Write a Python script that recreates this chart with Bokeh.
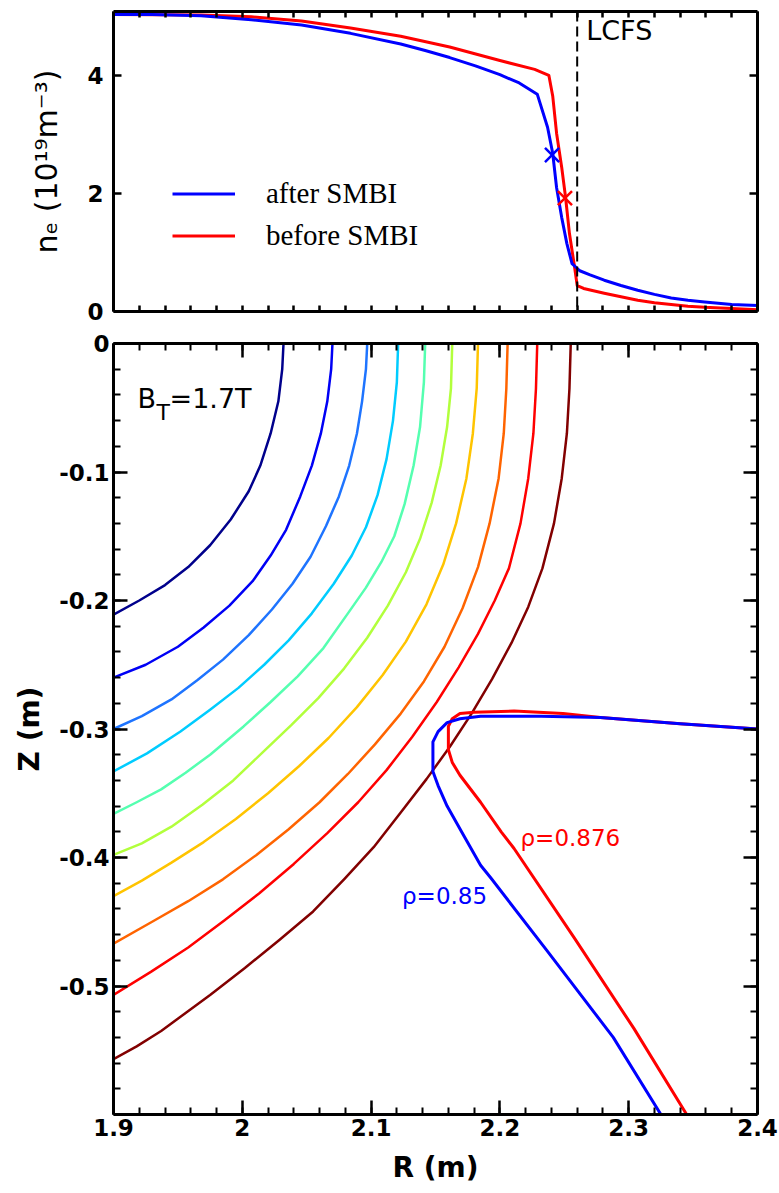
from bokeh.plotting import figure
from bokeh.layouts import column
from bokeh.models import (Range1d, LinearAxis, FixedTicker, CustomJSTickFormatter,
                          Label, Legend, LegendItem, Span)
from bokeh.embed import file_html
from bokeh.resources import INLINE

# ---------------- upper panel: density profiles ----------------
R_after = [1.900, 1.930, 1.968, 2.007, 2.046, 2.084, 2.123, 2.142, 2.161, 2.181, 2.200, 2.215, 2.229,
           2.237, 2.241, 2.244, 2.248, 2.252, 2.256, 2.262, 2.270, 2.281, 2.294, 2.307, 2.320,
           2.333, 2.346, 2.359, 2.380, 2.400]
ne_after = [5.03, 5.03, 5.01, 4.94, 4.85, 4.71, 4.53, 4.42, 4.30, 4.16, 4.01, 3.87, 3.68,
            3.12, 2.68, 2.10, 1.59, 1.15, 0.81, 0.69, 0.62, 0.53, 0.44, 0.36, 0.29,
            0.23, 0.19, 0.16, 0.12, 0.10]

R_before = [1.900, 1.968, 2.007, 2.046, 2.084, 2.123, 2.161, 2.200, 2.227, 2.238,
            2.241, 2.244, 2.248, 2.251, 2.254, 2.258, 2.260, 2.265, 2.281, 2.294, 2.307,
            2.320, 2.333, 2.346, 2.359, 2.380, 2.400]
ne_before = [5.03, 5.02, 4.99, 4.92, 4.80, 4.66, 4.48, 4.25, 4.10, 4.00,
             3.65, 3.02, 2.44, 1.93, 1.32, 0.75, 0.44, 0.39, 0.31, 0.25, 0.19,
             0.15, 0.12, 0.09, 0.07, 0.05, 0.03]

mark_after_R, mark_after_ne = [2.2405], [2.65]
mark_before_R, mark_before_ne = [2.2505], [1.92]
lcfs_R = 2.26

top_x_ticks = [round(1.90 + 0.02 * i, 2) for i in range(26)]
top_y_ticks = [0, 2, 4]

# ---------------- lower panel: flux surfaces ----------------
surf1_R = [2.032, 2.031, 2.028, 2.022, 2.014, 2.005, 1.991, 1.975, 1.958, 1.940, 1.920, 1.900]
surf1_Z = [0.000, -0.020, -0.045, -0.070, -0.095, -0.115, -0.137, -0.157, -0.174, -0.188, -0.200, -0.211]
surf2_R = [2.070, 2.069, 2.066, 2.061, 2.054, 2.045, 2.034, 2.022, 2.008, 1.990, 1.970, 1.950, 1.925, 1.900]
surf2_Z = [0.000, -0.020, -0.045, -0.070, -0.095, -0.119, -0.145, -0.165, -0.185, -0.204, -0.221, -0.236, -0.250, -0.260]
surf3_R = [2.097, 2.096, 2.093, 2.089, 2.083, 2.075, 2.065, 2.053, 2.039, 2.023, 2.005, 1.985, 1.965, 1.945, 1.922, 1.900]
surf3_Z = [0.000, -0.020, -0.045, -0.070, -0.095, -0.119, -0.142, -0.166, -0.187, -0.207, -0.227, -0.246, -0.262, -0.277, -0.290, -0.300]
surf4_R = [2.121, 2.120, 2.117, 2.112, 2.105, 2.096, 2.085, 2.071, 2.054, 2.036, 2.017, 1.997, 1.975, 1.952, 1.926, 1.900]
surf4_Z = [0.000, -0.030, -0.060, -0.090, -0.118, -0.143, -0.165, -0.187, -0.210, -0.231, -0.250, -0.268, -0.285, -0.302, -0.319, -0.333]
surf5_R = [2.142, 2.141, 2.138, 2.133, 2.126, 2.118, 2.108, 2.096, 2.082, 2.063, 2.043, 2.022, 2.001,
           1.975, 1.956, 1.937, 1.918, 1.900]
surf5_Z = [0.000, -0.030, -0.065, -0.095, -0.125, -0.150, -0.170, -0.190, -0.210, -0.237, -0.259, -0.279, -0.298,
           -0.320, -0.334, -0.347, -0.357, -0.366]
surf6_R = [2.163, 2.162, 2.159, 2.154, 2.147, 2.138, 2.127, 2.113, 2.097, 2.079, 2.059, 2.038, 2.016,
           1.993, 1.969, 1.945, 1.922, 1.900]
surf6_Z = [0.000, -0.035, -0.065, -0.095, -0.124, -0.152, -0.178, -0.204, -0.229, -0.253, -0.276, -0.297, -0.318,
           -0.340, -0.359, -0.376, -0.389, -0.398]
surf7_R = [2.183, 2.182, 2.179, 2.174, 2.166, 2.156, 2.143, 2.127, 2.109, 2.089, 2.067, 2.044, 2.020,
           1.995, 1.970, 1.945, 1.922, 1.900]
surf7_Z = [0.000, -0.035, -0.070, -0.105, -0.140, -0.172, -0.203, -0.232, -0.258, -0.283, -0.307, -0.329, -0.350,
           -0.370, -0.388, -0.404, -0.418, -0.430]
surf8_R = [2.206, 2.205, 2.203, 2.199, 2.192, 2.183, 2.171, 2.157, 2.141, 2.123, 2.103, 2.082, 2.060,
           2.036, 2.011, 1.985, 1.958, 1.930, 1.900]
surf8_Z = [0.000, -0.035, -0.070, -0.105, -0.140, -0.174, -0.206, -0.236, -0.263, -0.288, -0.312, -0.335, -0.357,
           -0.378, -0.398, -0.417, -0.434, -0.450, -0.467]
surf9_R = [2.229, 2.228, 2.226, 2.222, 2.216, 2.207, 2.196, 2.183, 2.168, 2.151, 2.132, 2.112, 2.090,
           2.066, 2.040, 2.013, 1.986, 1.958, 1.929, 1.900]
surf9_Z = [0.000, -0.035, -0.070, -0.105, -0.140, -0.175, -0.200, -0.226, -0.252, -0.279, -0.306, -0.332, -0.357,
           -0.381, -0.405, -0.428, -0.449, -0.470, -0.489, -0.507]
surf10_R = [2.255, 2.254, 2.252, 2.248, 2.242, 2.233, 2.222, 2.209, 2.194, 2.178, 2.161, 2.143, 2.123,
            2.102, 2.079, 2.055, 2.029, 2.002, 1.975, 1.956, 1.937, 1.918, 1.900]
surf10_Z = [0.000, -0.035, -0.070, -0.105, -0.140, -0.175, -0.205, -0.233, -0.261, -0.288, -0.314, -0.339, -0.365,
            -0.392, -0.417, -0.442, -0.464, -0.486, -0.507, -0.521, -0.535, -0.547, -0.557]
surf_colors = ["#00008C", "#0000F5", "#1E74FF", "#00CCFF", "#55FFB0",
               "#B2FF3C", "#FFC400", "#FF6400", "#FF0000", "#820000"]

rho085_R = [2.400, 2.340, 2.278, 2.232, 2.185, 2.169, 2.159, 2.152, 2.148, 2.148, 2.152, 2.159,
            2.172, 2.185, 2.193, 2.237, 2.288, 2.325]
rho085_Z = [-0.300, -0.296, -0.291, -0.290, -0.290, -0.292, -0.295, -0.302, -0.310, -0.333, -0.344, -0.360,
            -0.383, -0.406, -0.416, -0.473, -0.540, -0.600]
rho0876_R = [2.400, 2.340, 2.278, 2.249, 2.211, 2.180, 2.169, 2.163, 2.160, 2.160, 2.163, 2.169,
             2.185, 2.201, 2.211, 2.258, 2.304, 2.345]
rho0876_Z = [-0.300, -0.296, -0.291, -0.288, -0.286, -0.287, -0.288, -0.292, -0.298, -0.316, -0.326, -0.336,
             -0.357, -0.380, -0.393, -0.463, -0.533, -0.600]

bot_x_major = [1.9, 2.0, 2.1, 2.2, 2.3, 2.4]
bot_x_minor = [round(1.90 + 0.02 * i, 2) for i in range(26)]
bot_y_major = [0.0, -0.1, -0.2, -0.3, -0.4, -0.5]
bot_y_minor = [round(-0.02 * i, 2) for i in range(31)]

FONT = "DejaVu Sans"
fmt = CustomJSTickFormatter(code="""
const v = Math.round(tick * 100) / 100;
return (Math.abs(v) < 1e-9) ? "0" : String(v);
""")


def style_axis(ax, ticker, major_len, minor_len, labels, standoff=4):
    ax.ticker = ticker
    ax.formatter = fmt
    ax.axis_line_width = 3
    ax.axis_line_color = "black"
    ax.major_tick_in = major_len
    ax.major_tick_out = 0
    ax.minor_tick_in = minor_len
    ax.minor_tick_out = 0
    ax.major_tick_line_width = 2.5
    ax.minor_tick_line_width = 2
    ax.major_tick_line_color = "black"
    ax.minor_tick_line_color = "black"
    ax.major_label_text_font = FONT
    ax.major_label_text_font_style = "bold"
    if labels:
        ax.major_label_text_color = "black"
        ax.major_label_text_font_size = "23px"
        ax.major_label_standoff = standoff
    else:
        ax.major_label_text_color = None
        ax.major_label_text_alpha = 0
        ax.major_label_text_font_size = "1px"
        ax.major_label_standoff = 0


# ---------------- upper figure ----------------
top = figure(frame_width=644, frame_height=300, x_range=Range1d(1.9, 2.4), y_range=Range1d(0, 5.08),
             output_backend="svg", toolbar_location=None,
             min_border_left=113, min_border_right=22, min_border_top=11, min_border_bottom=14)
top.grid.visible = False
top.outline_line_color = None
top.background_fill_color = "white"
top.border_fill_color = "white"

ax_b = top.xaxis[0]
ax_l = top.yaxis[0]
style_axis(ax_b, FixedTicker(ticks=top_x_ticks, minor_ticks=[]), 6, 0, False)
style_axis(ax_l, FixedTicker(ticks=top_y_ticks, minor_ticks=[]), 8, 0, True, standoff=10)
ax_t = LinearAxis()
style_axis(ax_t, FixedTicker(ticks=top_x_ticks, minor_ticks=[]), 6, 0, False)
top.add_layout(ax_t, "above")
ax_r = LinearAxis()
style_axis(ax_r, FixedTicker(ticks=top_y_ticks, minor_ticks=[]), 8, 0, False)
top.add_layout(ax_r, "right")

ax_l.axis_label = "n\u2091 (10\u00b9\u2079m\u207b\u00b3)"
ax_l.axis_label_text_font = FONT
ax_l.axis_label_text_font_size = "30px"
ax_l.axis_label_text_font_style = "normal"
ax_l.axis_label_text_color = "black"
ax_l.axis_label_standoff = 20

top.add_layout(Span(location=lcfs_R, dimension="height", line_color="black",
                    line_width=2, line_dash="10 5"))

r_before = top.line(R_before, ne_before, line_color="#FF0000", line_width=3, line_join="round")
r_after = top.line(R_after, ne_after, line_color="#0000FF", line_width=3, line_join="round")
top.scatter(mark_after_R, mark_after_ne, marker="x", size=20, line_color="#0000FF", line_width=2.5)
top.scatter(mark_before_R, mark_before_ne, marker="x", size=20, line_color="#FF0000", line_width=2.5)

top.add_layout(Label(x=2.267, y=4.75, text="LCFS", text_font=FONT, text_font_size="27px",
                     text_baseline="middle", text_align="left", text_color="black"))

legend = Legend(items=[LegendItem(label="after SMBI", renderers=[r_after]),
                       LegendItem(label="before SMBI", renderers=[r_before])],
                location=(59, 56), orientation="vertical",
                label_text_font="Liberation Serif", label_text_font_size="29px",
                label_text_color="black",
                glyph_width=63, glyph_height=39, label_height=39, label_standoff=31,
                spacing=3, padding=0, margin=0,
                border_line_color=None, background_fill_alpha=0)
top.add_layout(legend, "center")

# ---------------- lower figure ----------------
bot = figure(frame_width=644, frame_height=771, x_range=Range1d(1.9, 2.4), y_range=Range1d(-0.6, 0),
             output_backend="svg", toolbar_location=None,
             min_border_left=113, min_border_right=22, min_border_top=18, min_border_bottom=79)
bot.grid.visible = False
bot.outline_line_color = None
bot.background_fill_color = "white"
bot.border_fill_color = "white"

bx_b = bot.xaxis[0]
by_l = bot.yaxis[0]
style_axis(bx_b, FixedTicker(ticks=bot_x_major, minor_ticks=bot_x_minor), 14, 7, True, standoff=4)
style_axis(by_l, FixedTicker(ticks=bot_y_major, minor_ticks=bot_y_minor), 14, 7, True, standoff=4)
bx_t = LinearAxis()
style_axis(bx_t, FixedTicker(ticks=bot_x_major, minor_ticks=bot_x_minor), 14, 7, False)
bot.add_layout(bx_t, "above")
by_r = LinearAxis()
style_axis(by_r, FixedTicker(ticks=bot_y_major, minor_ticks=bot_y_minor), 14, 7, False)
bot.add_layout(by_r, "right")

for ax, lab, so in ((bx_b, "R (m)", 12), (by_l, "Z (m)", 10)):
    ax.axis_label = lab
    ax.axis_label_text_font = FONT
    ax.axis_label_text_font_size = "28px"
    ax.axis_label_text_font_style = "bold"
    ax.axis_label_text_color = "black"
    ax.axis_label_standoff = so

surf_R = [surf1_R, surf2_R, surf3_R, surf4_R, surf5_R, surf6_R, surf7_R, surf8_R, surf9_R, surf10_R]
surf_Z = [surf1_Z, surf2_Z, surf3_Z, surf4_Z, surf5_Z, surf6_Z, surf7_Z, surf8_Z, surf9_Z, surf10_Z]
bot.multi_line(xs=surf_R, ys=surf_Z, line_color=surf_colors, line_width=2.5, line_join="round")

bot.line(rho0876_R, rho0876_Z, line_color="#FF0000", line_width=3, line_join="round")
bot.line(rho085_R, rho085_Z, line_color="#0000FF", line_width=3, line_join="round")

bot.add_layout(Label(x=2.216, y=-0.385, text="\u03c1=0.876", text_font=FONT, text_font_size="23px",
                     text_baseline="middle", text_align="left", text_color="#FF0000"))
bot.add_layout(Label(x=2.124, y=-0.430, text="\u03c1=0.85", text_font=FONT, text_font_size="23px",
                     text_baseline="middle", text_align="left", text_color="#0000FF"))
bot.add_layout(Label(x=1.9186, y=-0.0426, text="B", text_font=FONT, text_font_size="27px",
                     text_baseline="middle", text_align="left", text_color="black"))
bot.add_layout(Label(x=1.9334, y=-0.0540, text="T", text_font=FONT, text_font_size="22px",
                     text_baseline="middle", text_align="left", text_color="black"))
bot.add_layout(Label(x=1.9435, y=-0.0426, text="=1.7T", text_font=FONT, text_font_size="27px",
                     text_baseline="middle", text_align="left", text_color="black"))

layout = column(top, bot, spacing=0)
open("out.html", "w").write(file_html(layout, INLINE))
